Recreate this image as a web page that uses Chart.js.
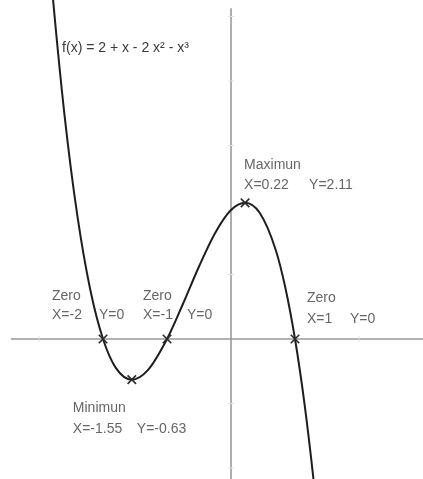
<!DOCTYPE html>
<html>
<head>
<meta charset="utf-8">
<script src="https://cdn.jsdelivr.net/npm/chart.js@4/dist/chart.umd.min.js"></script>
<style>
  html, body { margin: 0; padding: 0; background: #ffffff; }
  #plot { display: block; }
</style>
</head>
<body>
<canvas id="plot" width="423" height="479"></canvas>
<script>
// f(x) = 2 + x - 2x² - x³, sampled along the visible stretch of the curve
const curveX = [-2.9, -2.8, -2.6, -2.4, -2.2, -2.0, -1.8, -1.55, -1.3, -1.0, -0.75, -0.5, -0.25, 0.0, 0.22, 0.45, 0.7, 0.85, 1.0, 1.15, 1.3, 1.4];
const curveY = [6.669, 5.472, 3.456, 1.904, 0.768, 0.0, -0.448, -0.631, -0.483, 0.0, 0.547, 1.125, 1.641, 2.0, 2.113, 1.954, 1.377, 0.791, 0.0, -1.016, -2.277, -3.264];

// Marked points: the three zeros, the minimum and the maximum
const pointNames = ["Zero", "Zero", "Zero", "Minimun", "Maximun"];
const pointX = [-2, -1, 1, -1.55, 0.22];
const pointY = [0, 0, 0, -0.63, 2.11];
const pointXText = ["X=-2", "X=-1", "X=1", "X=-1.55", "X=0.22"];
const pointYText = ["Y=0", "Y=0", "Y=0", "Y=-0.63", "Y=2.11"];

const formulaText = "f(x) = 2 + x - 2 x\u00B2 - x\u00B3";

// Visible window and the extent of the drawn axes (data units)
const viewX = [-3.61, 3.0];
const viewY = [-2.17, 5.256];
const axisSpanX = [-3.44, 3.0];
const axisSpanY = [-2.17, 5.13];
const tickValuesX = [-3, -2, -1, 1, 2];
const tickValuesY = [-2, -1, 1, 2, 3, 4, 5];

// Where each point's caption sits, in pixels from the marker
const captionLayout = [
  { dx: -51, dy: -43, dyLine: 19, dxY: -4 },
  { dx: -24, dy: -43, dyLine: 19, dxY: 20 },
  { dx: 12,  dy: -41, dyLine: 21, dxY: 55 },
  { dx: -59, dy: 28,  dyLine: 21, dxY: 5 },
  { dx: -1,  dy: -38, dyLine: 20, dxY: 64 }
];
const formulaAnchor = { x: -2.64, y: 4.51 };

const FONT = '"Liberation Sans", Arial, sans-serif';

const axesPlugin = {
  id: 'crossAxes',
  beforeDatasetsDraw(chart) {
    const { ctx, scales: { x, y } } = chart;
    const x0 = x.getPixelForValue(0);
    const y0 = y.getPixelForValue(0);
    ctx.save();
    ctx.strokeStyle = '#9a9a9a';
    ctx.lineWidth = 1.6;
    ctx.beginPath();
    ctx.moveTo(x.getPixelForValue(axisSpanX[0]), y0);
    ctx.lineTo(x.getPixelForValue(axisSpanX[1]), y0);
    ctx.moveTo(x0, y.getPixelForValue(axisSpanY[1]));
    ctx.lineTo(x0, y.getPixelForValue(axisSpanY[0]));
    ctx.stroke();
    ctx.strokeStyle = '#e0e0e0';
    ctx.lineWidth = 1;
    ctx.beginPath();
    tickValuesX.forEach(v => {
      const px = x.getPixelForValue(v);
      ctx.moveTo(px, y0 - 3);
      ctx.lineTo(px, y0 + 3);
    });
    tickValuesY.forEach(v => {
      const py = y.getPixelForValue(v);
      ctx.moveTo(x0 - 3, py);
      ctx.lineTo(x0 + 3, py);
    });
    ctx.stroke();
    ctx.restore();
  }
};

const captionPlugin = {
  id: 'pointCaptions',
  afterDatasetsDraw(chart) {
    const { ctx, scales: { x, y } } = chart;
    ctx.save();
    ctx.textBaseline = 'middle';
    ctx.textAlign = 'left';
    ctx.font = '14px ' + FONT;
    ctx.fillStyle = '#666666';
    pointX.forEach((vx, i) => {
      const px = x.getPixelForValue(vx);
      const py = y.getPixelForValue(pointY[i]);
      const L = captionLayout[i];
      ctx.fillText(pointNames[i], px + L.dx, py + L.dy);
      ctx.fillText(pointXText[i], px + L.dx, py + L.dy + L.dyLine);
      ctx.fillText(pointYText[i], px + L.dxY, py + L.dy + L.dyLine);
    });
    ctx.font = '14px ' + FONT;
    ctx.fillStyle = '#3a3a3a';
    ctx.fillText(formulaText, x.getPixelForValue(formulaAnchor.x), y.getPixelForValue(formulaAnchor.y));
    ctx.restore();
  }
};

new Chart(document.getElementById('plot'), {
  type: 'scatter',
  data: {
    datasets: [
      {
        label: 'f(x)',
        data: curveX.map((v, i) => ({ x: v, y: curveY[i] })),
        showLine: true,
        borderColor: '#1e1e1e',
        borderWidth: 2,
        pointRadius: 0,
        cubicInterpolationMode: 'monotone',
        order: 2
      },
      {
        label: 'points',
        data: pointX.map((v, i) => ({ x: v, y: pointY[i] })),
        showLine: false,
        pointStyle: 'crossRot',
        pointRadius: 6,
        borderColor: '#2a2a2a',
        borderWidth: 1.6,
        order: 1
      }
    ]
  },
  options: {
    responsive: false,
    animation: false,
    layout: { padding: 0, autoPadding: false },
    plugins: { legend: { display: false }, tooltip: { enabled: false } },
    scales: {
      x: { type: 'linear', min: viewX[0], max: viewX[1], display: false },
      y: { type: 'linear', min: viewY[0], max: viewY[1], display: false }
    }
  },
  plugins: [axesPlugin, captionPlugin]
});
</script>
</body>
</html>
